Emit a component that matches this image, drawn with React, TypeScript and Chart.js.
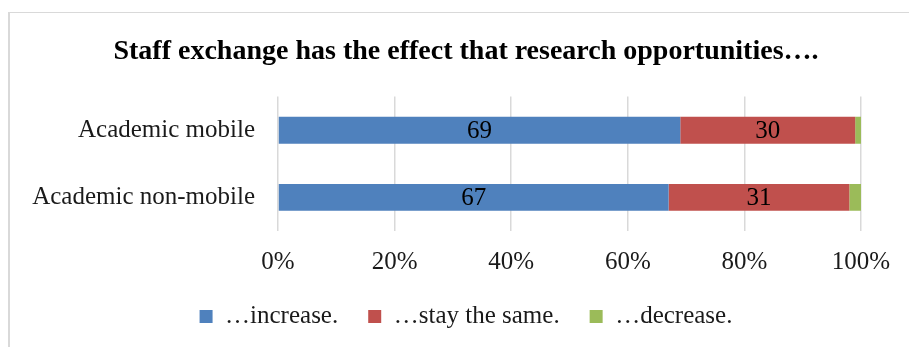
import React, { useEffect, useRef } from "react";
import { Chart, registerables } from "chart.js";

Chart.register(...registerables);

const title = "Staff exchange has the effect that research opportunities….";
const categories = ["Academic mobile", "Academic non-mobile"];
const seriesNames = ["…increase.", "…stay the same.", "…decrease."];
const increaseValues = [69, 67];
const sameValues = [30, 31];
const decreaseValues = [1, 2];
const xTicks = [0, 20, 40, 60, 80, 100];
const colors = ["#4F81BD", "#C0504D", "#9BBB59"];

const FONT = "'Liberation Serif', 'Times New Roman', serif";

const valueLabels = {
  id: "valueLabels",
  afterDatasetsDraw(chart: any) {
    const ctx = chart.ctx;
    ctx.save();
    ctx.font = `25px ${FONT}`;
    ctx.fillStyle = "#000";
    ctx.textAlign = "center";
    ctx.textBaseline = "middle";
    [0, 1].forEach((di) => {
      const meta = chart.getDatasetMeta(di);
      const ds = chart.data.datasets[di];
      meta.data.forEach((el: any, i: number) => {
        const cx = (el.x + el.base) / 2;
        ctx.fillText(String(ds.data[i]), cx, el.y + 1);
      });
    });
    ctx.restore();
  },
};

export default function App() {
  const ref = useRef<HTMLCanvasElement>(null);
  useEffect(() => {
    if (!ref.current) return;
    const chart = new Chart(ref.current, {
      type: "bar",
      data: {
        labels: categories,
        datasets: [
          { label: seriesNames[0], data: increaseValues, backgroundColor: colors[0] },
          { label: seriesNames[1], data: sameValues, backgroundColor: colors[1] },
          { label: seriesNames[2], data: decreaseValues, backgroundColor: colors[2] },
        ],
      },
      options: {
        indexAxis: "y",
        animation: false,
        responsive: false,
        maintainAspectRatio: false,
        layout: { padding: { left: 0, right: 0, top: 0, bottom: 8 } },
        datasets: {
          bar: { barPercentage: 0.4, categoryPercentage: 1, borderWidth: 0 },
        },
        scales: {
          x: {
            stacked: true,
            min: 0,
            max: 100,
            afterBuildTicks(scale: any) {
              scale.ticks = xTicks.map((v) => ({ value: v }));
            },
            afterFit(scale: any) {
              scale.height = 43;
            },
            ticks: {
              padding: 16,
              color: "#1a1a1a",
              font: { family: FONT, size: 25 },
              callback: (v: any) => v + "%",
            },
            grid: { color: "#d9d9d9", lineWidth: 1.5, drawTicks: false },
            border: { display: false },
          },
          y: {
            stacked: true,
            afterFit(scale: any) {
              scale.width = 278;
            },
            ticks: {
              padding: 23,
              color: "#1a1a1a",
              font: { family: FONT, size: 25 },
            },
            grid: { display: false, drawTicks: false },
            border: { display: false },
          },
          yRight: {
            type: "category",
            axis: "y",
            position: "right",
            labels: categories,
            afterFit(scale: any) {
              scale.width = 71;
            },
            ticks: { display: false },
            grid: { display: false, drawTicks: false },
            border: { display: false },
          },
        },
        plugins: {
          title: {
            display: true,
            text: title,
            color: "#000",
            font: { family: FONT, size: 28, weight: "bold" },
            padding: { top: 35, bottom: 28 },
          },
          legend: {
            position: "bottom",
            labels: {
              boxWidth: 13,
              boxHeight: 13,
              padding: 30,
              color: "#1a1a1a",
              font: { family: FONT, size: 25 },
            },
          },
          tooltip: { enabled: false },
        },
      },
      plugins: [valueLabels],
    });
    return () => chart.destroy();
  }, []);
  return (
    <div style={{ position: "absolute", left: 0, top: 0, width: 909, height: 347, overflow: "hidden", background: "#fff" }}>
      <div
        style={{
          position: "absolute",
          left: 8,
          top: 12,
          width: 1200,
          height: 1200,
          borderTop: "1px solid #d9d9d9",
          borderLeft: "2px solid #d9d9d9",
        }}
      />
      <canvas ref={ref} width={932} height={347} style={{ position: "absolute", left: 0, top: 0, width: 932, height: 347 }} />
    </div>
  );
}
